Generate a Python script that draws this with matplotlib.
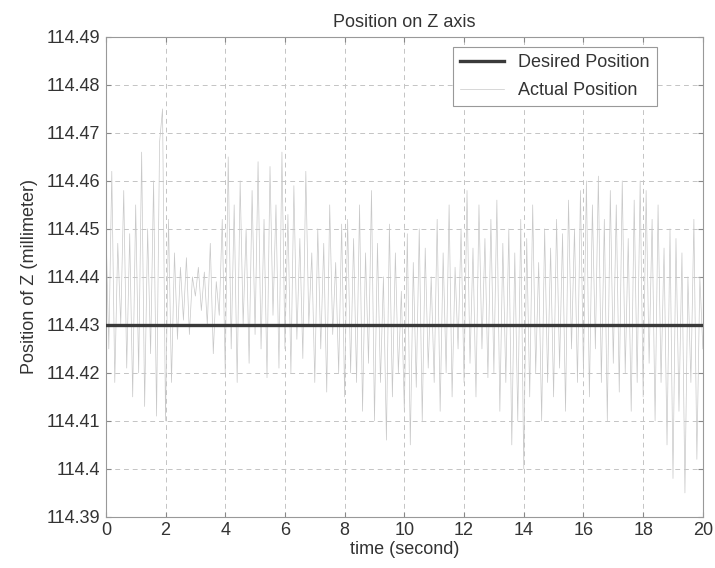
import matplotlib.pyplot as plt
import numpy as np

plt.rcParams['font.family'] = ['Liberation Sans', 'DejaVu Sans']

# time axis, 0.1 s sampling
t = np.arange(201) * 0.1

# desired Z position (millimeter)
desired = 114.43

# actual Z position (one row per second)
actual = [
    114.452, 114.425, 114.462, 114.418, 114.447, 114.430, 114.458, 114.421, 114.449, 114.415,
    114.455, 114.420, 114.466, 114.413, 114.450, 114.424, 114.460, 114.411, 114.468, 114.475,
    114.410, 114.452, 114.418, 114.445, 114.427, 114.442, 114.431, 114.444, 114.428, 114.440,
    114.436, 114.442, 114.433, 114.441, 114.430, 114.447, 114.424, 114.439, 114.432, 114.452,
    114.420, 114.465, 114.425, 114.455, 114.418, 114.460, 114.430, 114.450, 114.422, 114.458,
    114.428, 114.464, 114.425, 114.452, 114.419, 114.463, 114.432, 114.455, 114.421, 114.466,
    114.425, 114.453, 114.420, 114.459, 114.427, 114.448, 114.423, 114.462, 114.430, 114.445,
    114.418, 114.450, 114.425, 114.447, 114.416, 114.455, 114.428, 114.443, 114.420, 114.451,
    114.415, 114.452, 114.420, 114.448, 114.418, 114.455, 114.412, 114.445, 114.422, 114.458,
    114.410, 114.447, 114.418, 114.440, 114.406, 114.451, 114.415, 114.445, 114.420, 114.437,
    114.412, 114.449, 114.405, 114.443, 114.417, 114.450, 114.410, 114.446, 114.421, 114.440,
    114.418, 114.452, 114.412, 114.445, 114.420, 114.455, 114.415, 114.442, 114.425, 114.450,
    114.418, 114.458, 114.422, 114.446, 114.415, 114.455, 114.425, 114.448, 114.419, 114.452,
    114.420, 114.456, 114.412, 114.447, 114.418, 114.450, 114.405, 114.445, 114.410, 114.452,
    114.400, 114.448, 114.415, 114.455, 114.420, 114.443, 114.410, 114.450, 114.418, 114.446,
    114.415, 114.452, 114.421, 114.449, 114.412, 114.456, 114.425, 114.450, 114.418, 114.458,
    114.420, 114.460, 114.415, 114.455, 114.425, 114.461, 114.418, 114.452, 114.410, 114.458,
    114.422, 114.455, 114.416, 114.460, 114.420, 114.448, 114.412, 114.456, 114.418, 114.460,
    114.415, 114.458, 114.422, 114.452, 114.410, 114.455, 114.418, 114.446, 114.405, 114.450,
    114.398, 114.448, 114.412, 114.445, 114.395, 114.440, 114.418, 114.452, 114.402, 114.440,
    114.425,
]

fig = plt.figure(figsize=(7.15, 5.68), dpi=100)
ax = fig.add_axes([0.148, 0.09, 0.835, 0.845])

ax.plot(t, [desired] * len(t), color='#3a3a3a', lw=2.4, label='Desired Position', zorder=3)
ax.plot(t, actual, color='#c8c8c8', lw=0.5, label='Actual Position', zorder=2)

ax.set_xlim(0, 20)
ax.set_ylim(114.39, 114.49)
ax.set_xticks(np.arange(0, 21, 2))
ax.set_yticks(np.arange(114.39, 114.4901, 0.01))
ax.set_yticklabels(['114.39', '114.4', '114.41', '114.42', '114.43', '114.44',
                    '114.45', '114.46', '114.47', '114.48', '114.49'])

ax.grid(True, linestyle=(0, (5, 4)), color='#c4c4c4', lw=0.7)
ax.tick_params(direction='in', top=True, right=True, labelsize=13,
               color='#888888', labelcolor='#333333', pad=4)
for s in ax.spines.values():
    s.set_color('#999999')

ax.set_title('Position on Z axis', fontsize=13, color='#333333', pad=7)
ax.set_xlabel('time (second)', fontsize=13, color='#333333', labelpad=1)
ax.set_ylabel('Position of Z (millimeter)', fontsize=13, color='#333333', labelpad=6)

leg = ax.legend(loc='upper right', bbox_to_anchor=(0.923, 0.979), fontsize=13,
                fancybox=False, edgecolor='#999999', framealpha=1,
                handlelength=2.4, borderaxespad=0, labelspacing=0.6)
leg.get_frame().set_linewidth(0.8)
for txt in leg.get_texts():
    txt.set_color('#333333')

plt.savefig('out.png', dpi=100)
